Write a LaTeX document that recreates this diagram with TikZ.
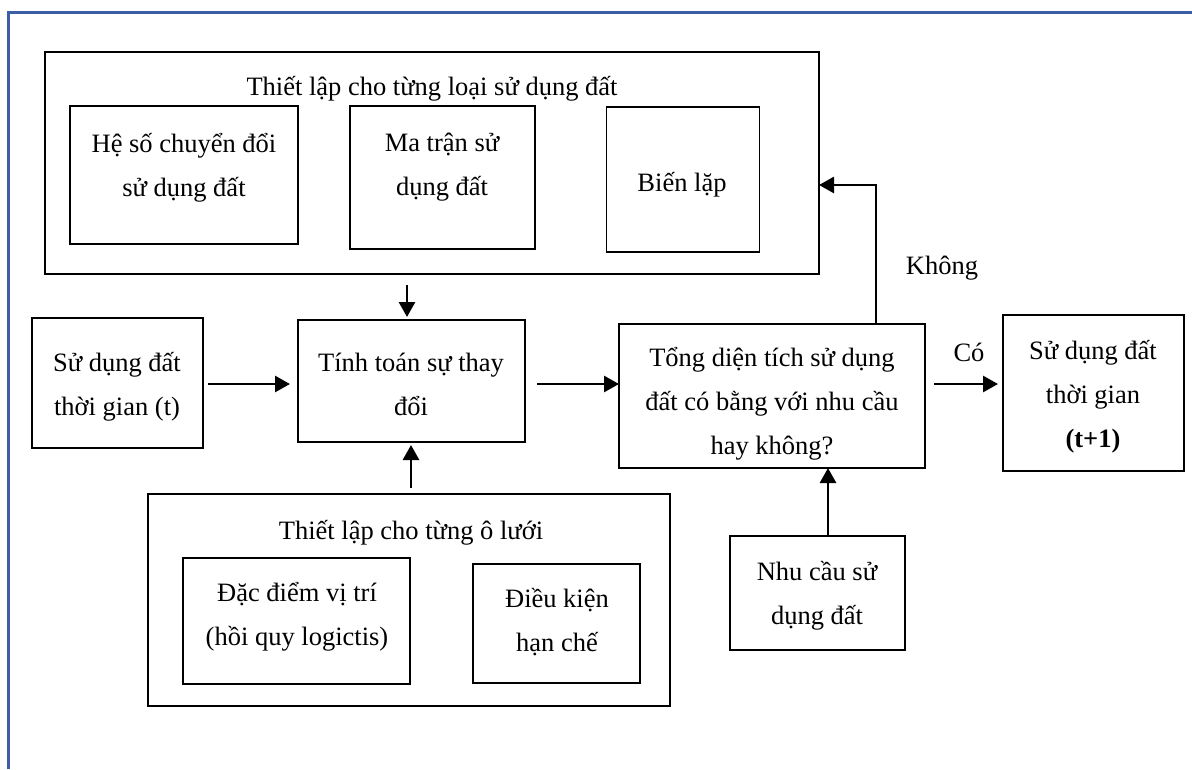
\documentclass[tikz,border=0pt]{standalone}
\usepackage{fontspec}
\setmainfont{Liberation Serif}
\usetikzlibrary{arrows.meta}
\definecolor{frameblue}{RGB}{60,94,164}
\begin{document}
\begin{tikzpicture}[x=1pt,y=-1pt,
  box/.style={draw=black, line width=1.3pt, rectangle, inner sep=0pt, outer sep=0pt},
  txt/.style={font=\fontsize{26.5}{44}\selectfont, align=flush center, text width=#1, anchor=base, inner sep=0pt},
  txt/.default=300pt,
  arr/.style={line width=2.8pt, -{Triangle[length=15pt,width=16pt]}}]
\useasboundingbox (0,0) rectangle (1192,769);
\draw[frameblue, line width=3pt] (8,769) -- (8,12) -- (1192,12);

% boxes
\node[box, minimum width=774pt, minimum height=222pt] (T) at (432,163) {};
\node[box, minimum width=228pt, minimum height=138pt] (h1) at (184,175) {};
\node[box, minimum width=185pt, minimum height=143pt] (h2) at (442.5,177.5) {};
\node[box, minimum width=153pt, minimum height=145pt] (h3) at (683,179.5) {};
\node[box, minimum width=171pt, minimum height=130pt] (L) at (117.5,383) {};
\node[box, minimum width=227pt, minimum height=122pt] (M) at (411.5,381) {};
\node[box, minimum width=306pt, minimum height=144pt] (D) at (772,396) {};
\node[box, minimum width=181pt, minimum height=156pt] (R) at (1093.5,393) {};
\node[box, minimum width=522pt, minimum height=212pt] (B) at (409,600) {};
\node[box, minimum width=227pt, minimum height=126pt] (A) at (296.5,621) {};
\node[box, minimum width=167pt, minimum height=119pt] (C) at (556.5,623.5) {};
\node[box, minimum width=175pt, minimum height=114pt] (N) at (817.5,593) {};

% texts
\node[txt=600pt] (tT) at (432,95) {Thiết lập cho từng loại sử dụng đất};
\node[txt] (t1) at (184,152) {Hệ số chuyển đổi\\sử dụng đất};
\node[txt] (t2) at (442,151) {Ma trận sử\\dụng đất};
\node[txt] (t3) at (682,191) {Biến lặp};
\node[txt] (tL) at (117,371) {Sử dụng đất\\thời gian (t)};
\node[txt] (tM) at (411,371) {Tính toán sự thay\\đổi};
\node[txt=320pt] (tD) at (772,366) {Tổng diện tích sử dụng\\đất có bằng với nhu cầu\\hay không?};
\node[txt] (tR) at (1093,359) {Sử dụng đất\\thời gian\\\textbf{(t+1)}};
\node[txt] (tB) at (411,539) {Thiết lập cho từng ô lưới};
\node[txt] (tA) at (297,601) {Đặc điểm vị trí\\(hồi quy logictis)};
\node[txt] (tC) at (557,607) {Điều kiện\\hạn chế};
\node[txt] (tN) at (817,580) {Nhu cầu sử\\dụng đất};
\node[txt=100pt] (co) at (969,361) {Có};
\node[txt=150pt] (khong) at (942,274) {Không};

% connectors
\coordinate (xa) at (407,0);
\coordinate (ya) at (0,384);
\coordinate (xb) at (876,0);
\coordinate (yb) at (0,185);
\coordinate (xc) at (828,0);
\coordinate (xd) at (411,0);
\draw[arr, shorten <=11pt, shorten >=3pt] (T.south -| xa) -- (M.north -| xa);
\draw[arr, shorten <=5pt, shorten >=8pt] (L.east |- ya) -- (M.west |- ya);
\draw[arr, shorten <=12pt] (M.east |- ya) -- (D.west |- ya);
\draw[arr, shorten <=9pt, shorten >=5pt] (D.east |- ya) -- (R.west |- ya);
\draw[arr] (D.north -| xb) -- (xb |- yb) -- (T.east |- yb);
\draw[arr] (N.north -| xc) -- (D.south -| xc);
\draw[arr, shorten <=6pt, shorten >=3pt] (B.north -| xd) -- (M.south -| xd);
\end{tikzpicture}
\end{document}
